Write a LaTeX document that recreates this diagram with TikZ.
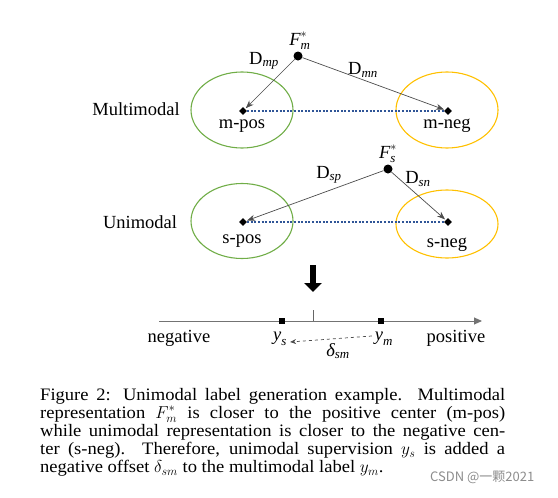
\documentclass[tikz,border=0pt]{standalone}
\usepackage{amsmath}
\usepackage{fontspec}
\setmainfont{Liberation Serif}
\newfontfamily\capfont[FakeStretch=1.06]{Liberation Serif}
\newfontfamily\cjkfont{Noto Sans CJK SC}
\usetikzlibrary{arrows.meta,shapes.geometric}
\definecolor{ggreen}{RGB}{112,173,71}
\definecolor{ggold}{RGB}{255,192,0}
\definecolor{dblue}{RGB}{47,85,151}
\begin{document}
\begin{tikzpicture}[x=1pt,y=-1pt,
  lbl/.style={font=\fontsize{18.5}{20}\selectfont, inner sep=0},
  grp/.style={draw, ellipse, line width=1.1pt, minimum width=102pt, minimum height=#1, inner sep=0},
  ctr/.style={fill=black, diamond, minimum size=8pt, inner sep=0},
  fdot/.style={circle, fill=black, minimum size=9pt, inner sep=0},
  dist/.style={draw=black!70, line width=0.7pt, -{Stealth[length=8pt,width=6pt]}, shorten >=1pt},
  sepline/.style={draw=dblue, line width=2.6pt, dash pattern=on 2pt off 1.6pt},
  sq/.style={fill=black, rectangle, minimum size=6pt, inner sep=0},
  axis/.style={draw=black!55, line width=0.9pt, -{Triangle[length=8pt,width=7pt]}},
]
\useasboundingbox (0,0) rectangle (558,498);
% ---- multimodal row
\node[grp=76pt, draw=ggreen] (gm) at (242,110) {};
\node[grp=76pt, draw=ggold] (om) at (447,110) {};
\node[ctr] (mpos) at (243,111) {};
\node[ctr] (mneg) at (448,111) {};
\node[fdot] (Fm) at (298,56) {};
\node[lbl] (Fml) at (300,41) {$\textit{F}_{\textit{m}}^{*}$};
\node[lbl] (mposl) at (242,126) {m-pos};
\node[lbl] (mnegl) at (447,126) {m-neg};
\node[lbl] (multi) at (136,109) {Multimodal};
\node[lbl] (Dmp) at (264,61) {D$_{\textit{mp}}$};
\node[lbl] (Dmn) at (363,70) {D$_{\textit{mn}}$};
\draw[sepline] (mpos) -- (mneg);
\draw[dist] (Fm) -- (mpos);
\draw[dist] (Fm) -- (mneg);
% ---- unimodal row
\node[grp=75pt, draw=ggreen] (gs) at (242,221) {};
\node[grp=68pt, draw=ggold] (os) at (447,224) {};
\node[ctr] (spos) at (243,222) {};
\node[ctr] (sneg) at (448,222) {};
\node[fdot] (Fs) at (388,169) {};
\node[lbl] (Fsl) at (388,154) {$\textit{F}_{\textit{s}}^{*}$};
\node[lbl] (sposl) at (242,241) {s-pos};
\node[lbl] (snegl) at (447,245) {s-neg};
\node[lbl] (uni) at (140,222) {Unimodal};
\node[lbl] (Dsp) at (329,175) {D$_{\textit{sp}}$};
\node[lbl] (Dsn) at (418,179) {D$_{\textit{sn}}$};
\draw[sepline] (spos) -- (sneg);
\draw[dist] (Fs) -- (spos);
\draw[dist] (Fs) -- (sneg);
% ---- big arrow
\coordinate (ba0) at (313,265);
\coordinate (ba1) at (313,292);
\draw[line width=6pt, -{Triangle[length=9pt,width=17pt]}] (ba0) -- (ba1);
% ---- number line
\coordinate (nl0) at (159,321);
\coordinate (nl1) at (482,321);
\draw[axis] (nl0) -- (nl1);
\coordinate (tk0) at (313,310);
\coordinate (tk1) at (313,321);
\draw[black!60, line width=0.8pt] (tk0) -- (tk1);
\node[sq] (ys) at (282,321) {};
\node[sq] (ym) at (381,321) {};
\node[lbl] (neg) at (179,338) {negative};
\node[lbl] (pos) at (456,338) {positive};
\node[lbl] (ysl) at (280,339) {$\textit{y}_{\textit{s}}$};
\node[lbl] (yml) at (384,339) {$\textit{y}_{\textit{m}}$};
\node[lbl] (dsm) at (338,351) {$\textit{δ}_{\textit{sm}}$};
\draw[black!70, line width=0.7pt, dashed, -{Stealth[length=6pt,width=5pt]}] (yml.west) ++(-3,-3) coordinate (da0) -- ([xshift=3pt,yshift=-3pt]ysl.east) coordinate (da1);
% ---- caption
\node[anchor=base west, text width=465pt, align=justify, inner sep=0,
  font=\capfont\fontsize{17.5}{18.2}\selectfont] (cap) at (40,400)
{\hyphenpenalty=10000\relax
Figure 2: Unimodal label generation example. Multimodal\linebreak
representation $F_m^*$ is closer to the positive center (m-pos)\linebreak
while unimodal representation is closer to the negative cen-\linebreak
ter (s-neg). Therefore, unimodal supervision $y_s$ is added a\linebreak
negative offset $\delta_{sm}$ to the multimodal label $y_m$.};
\node[anchor=base west, inner sep=0, text=black!45, font=\cjkfont\fontsize{13}{13}\selectfont] (wm) at (430,481) {CSDN @一颗2021};
\end{tikzpicture}
\end{document}
